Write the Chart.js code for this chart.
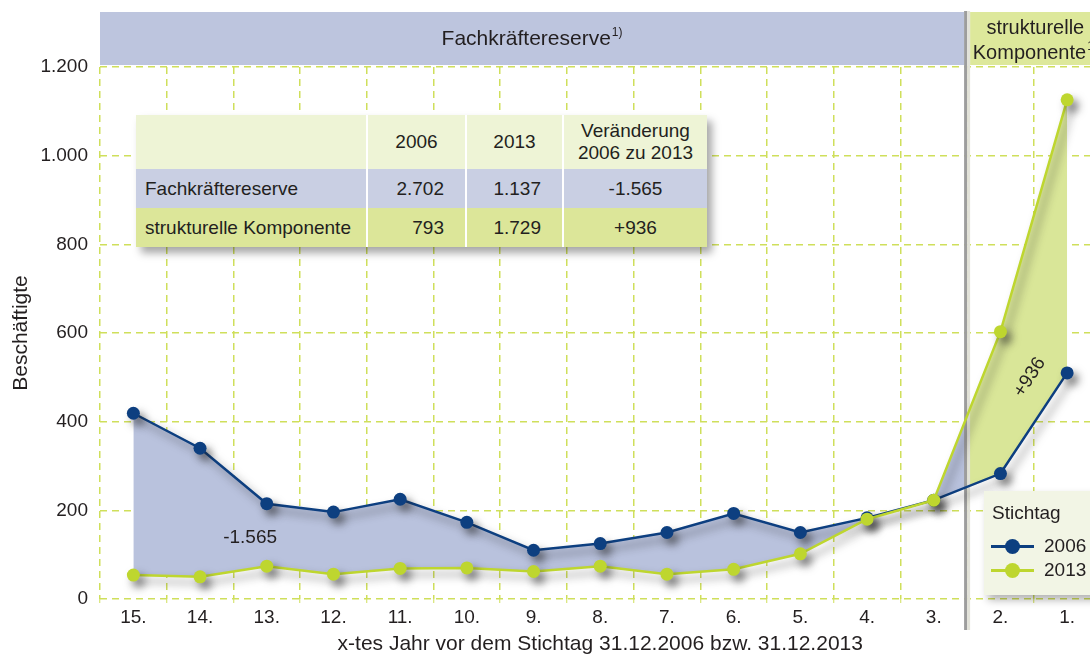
<!DOCTYPE html>
<html lang="de">
<head>
<meta charset="utf-8">
<title>Fachkräftereserve und strukturelle Komponente</title>
<script src="https://cdn.jsdelivr.net/npm/chart.js@4.4.1/dist/chart.umd.min.js"></script>
<style>
  html, body { margin: 0; padding: 0; background: #fff; overflow: hidden; }
  body { font-family: "Liberation Sans", Arial, sans-serif; color: #231f20; }
  #wrap { position: relative; width: 1107px; height: 657px; }
  #overview {
    position: absolute; left: 136px; top: 115px;
    border-collapse: collapse; font-size: 19px; table-layout: fixed;
    box-shadow: 5px 6px 8px rgba(0, 0, 0, 0.35);
  }
  #overview td { padding: 0; border-left: 2px solid #fff; white-space: nowrap; }
  #overview td:first-child { border-left: 0; }
  #overview tr.head { background: #eef4d6; height: 54px; }
  #overview tr.reserve { background: #c9cfe3; height: 39px; }
  #overview tr.struct { background: #dce699; height: 39px; }
  #overview tr.head td { text-align: center; line-height: 22px; }
  #overview td.name { padding-left: 9px; text-align: left; }
  #overview td.num { text-align: right; padding-right: 21px; }
  #overview td.diff { text-align: center; }
  #key {
    position: absolute; left: 984px; top: 491px; width: 130px; height: 104px;
    background: #f2f5e5; font-size: 19px;
    box-shadow: 4px 5px 8px rgba(0, 0, 0, 0.3);
  }
  #key .title { position: absolute; left: 8px; top: 10px; line-height: 24px; }
  #key .row { position: absolute; left: 7px; height: 24px; display: flex; align-items: center; }
  #key .sw { position: relative; width: 43px; height: 3px; margin-right: 10px; }
  #key .sw i { position: absolute; left: 14px; top: -6px; width: 15px; height: 15px; border-radius: 50%; }
</style>
</head>
<body>
<div id="wrap">
  <canvas id="reserve-chart"></canvas>
  <table id="overview">
    <colgroup><col style="width:231px"><col style="width:99px"><col style="width:97px"><col style="width:144px"></colgroup>
    <tr class="head"><td></td><td id="h0"></td><td id="h1"></td><td>Veränderung<br><span id="h2"></span></td></tr>
    <tr class="reserve"><td class="name">Fachkräftereserve</td><td class="num" id="r0"></td><td class="num" id="r1"></td><td class="diff" id="r2"></td></tr>
    <tr class="struct"><td class="name">strukturelle Komponente</td><td class="num" id="s0"></td><td class="num" id="s1"></td><td class="diff" id="s2"></td></tr>
  </table>
  <div id="key"><div class="title">Stichtag</div></div>
</div>
<script>
// x-tes Jahr vor dem Stichtag
const years = ['15.', '14.', '13.', '12.', '11.', '10.', '9.', '8.', '7.', '6.', '5.', '4.', '3.', '2.', '1.'];
const seriesLabels = ['2006', '2013'];
// Beschäftigte je Jahr, Stichtag 31.12.2006 bzw. 31.12.2013
const stichtag2006 = [419, 340, 215, 196, 225, 173, 110, 125, 150, 193, 150, 183, 223, 283, 510];
const stichtag2013 = [54, 50, 74, 56, 69, 70, 62, 74, 56, 67, 102, 180, 223, 603, 1126];
// the first 13 years count to the reserve, the last two to the structural part
const reserveYears = 13;
const yTicks = [0, 200, 400, 600, 800, 1000, 1200];

const BLUE = '#0d3f80';
const GREEN = '#bed62f';
const BLUE_FILL = '#b9c2dd';
const GREEN_FILL = '#d9e698';
const BLUE_BAND = '#bdc5de';
const GREEN_BAND = '#dde89b';
const GRID = '#cfdf5b';
const TEXT = '#231f20';
const FONT = '"Liberation Sans", Arial, sans-serif';

// German number format: 1.234 / -1.565 / +936
function fmt(n, signed) {
    const s = Math.abs(n).toString().replace(/\B(?=(\d{3})+(?!\d))/g, '.');
    if (n < 0) return '-' + s;
    return (signed ? '+' : '') + s;
}
const sum = arr => arr.reduce((a, b) => a + b, 0);

const reserve = [sum(stichtag2006.slice(0, reserveYears)), sum(stichtag2013.slice(0, reserveYears))];
const struct = [sum(stichtag2006.slice(reserveYears)), sum(stichtag2013.slice(reserveYears))];
const reserveChange = reserve[1] - reserve[0];
const structChange = struct[1] - struct[0];

// summary table
document.getElementById('h0').textContent = seriesLabels[0];
document.getElementById('h1').textContent = seriesLabels[1];
document.getElementById('h2').textContent = seriesLabels[0] + ' zu ' + seriesLabels[1];
document.getElementById('r0').textContent = fmt(reserve[0]);
document.getElementById('r1').textContent = fmt(reserve[1]);
document.getElementById('r2').textContent = fmt(reserveChange, true);
document.getElementById('s0').textContent = fmt(struct[0]);
document.getElementById('s1').textContent = fmt(struct[1]);
document.getElementById('s2').textContent = fmt(structChange, true);

// legend box
const key = document.getElementById('key');
[BLUE, GREEN].forEach((color, i) => {
    const row = document.createElement('div');
    row.className = 'row';
    row.style.top = (43 + i * 24) + 'px';
    row.innerHTML = '<span class="sw" style="background:' + color + '"><i style="background:' + color + '"></i></span>' + seriesLabels[i];
    key.appendChild(row);
});

// x position of the divider between the reserve years and the structural years
function dividerX(chart) {
    const x = chart.scales.x;
    return (x.getPixelForValue(reserveYears - 1) + x.getPixelForValue(reserveYears)) / 2;
}

// blue fill left of the divider, green fill right of it
function splitFill(context) {
    const chart = context.chart;
    const area = chart.chartArea;
    if (!area || !chart.scales.x) return BLUE_FILL;
    const cut = (dividerX(chart) - area.left) / (area.right - area.left);
    const g = chart.ctx.createLinearGradient(area.left, 0, area.right, 0);
    g.addColorStop(0, BLUE_FILL);
    g.addColorStop(cut, BLUE_FILL);
    g.addColorStop(cut, GREEN_FILL);
    g.addColorStop(1, GREEN_FILL);
    return g;
}

// soft drop shadow under lines and points
const shadowPlugin = {
    id: 'markShadow',
    beforeDatasetDraw(chart) {
        const c = chart.ctx;
        c.save();
        c.shadowColor = 'rgba(30, 30, 30, 0.55)';
        c.shadowBlur = 8;
        c.shadowOffsetX = 5;
        c.shadowOffsetY = 6;
    },
    afterDatasetDraw(chart) {
        chart.ctx.restore();
    }
};

// header bands, divider and the change labels
const panelPlugin = {
    id: 'panels',
    beforeDraw(chart) {
        const c = chart.ctx;
        const area = chart.chartArea;
        const sx = dividerX(chart);
        const top = area.top - 55, h = 53;
        c.save();
        c.fillStyle = BLUE_BAND;
        c.fillRect(area.left, top, sx - 3 - area.left, h);
        c.fillStyle = GREEN_BAND;
        c.fillRect(sx + 3, top, area.right - sx - 3, h);

        c.fillStyle = TEXT;
        c.textBaseline = 'middle';
        // left band title with footnote mark
        c.font = '21px ' + FONT;
        const t1 = 'Fachkräftereserve';
        const w1 = c.measureText(t1).width;
        c.font = '12px ' + FONT;
        const wn = c.measureText('1)').width;
        let x0 = (area.left + sx - 3) / 2 - (w1 + wn + 1) / 2;
        const cy = top + h / 2;
        c.textAlign = 'left';
        c.font = '21px ' + FONT;
        c.fillText(t1, x0, cy + 1);
        c.font = '12px ' + FONT;
        c.fillText('1)', x0 + w1 + 1, cy - 6);

        // right band title, two lines
        const cx = (sx + 3 + area.right) / 2;
        c.font = '20px ' + FONT;
        c.textAlign = 'center';
        c.fillText('strukturelle', cx, top + 16);
        const t2 = 'Komponente';
        const w2 = c.measureText(t2).width;
        c.font = '12px ' + FONT;
        const wn2 = c.measureText('1)').width;
        c.textAlign = 'left';
        const x2 = cx - (w2 + wn2 + 1) / 2;
        c.font = '20px ' + FONT;
        c.fillText(t2, x2, top + 41);
        c.font = '12px ' + FONT;
        c.fillText('1)', x2 + w2 + 1, top + 35);
        c.restore();
    },
    beforeDatasetsDraw(chart) {
        const c = chart.ctx;
        const area = chart.chartArea;
        const sx = dividerX(chart);
        c.save();
        c.fillStyle = '#9d9d9d';
        c.fillRect(sx - 3, area.top - 56, 3, area.bottom - area.top + 87);
        c.fillStyle = '#e2e2d9';
        c.fillRect(sx, area.top - 56, 3, area.bottom - area.top + 87);
        c.restore();
    },
    afterDatasetsDraw(chart) {
        const c = chart.ctx;
        const x = chart.scales.x, y = chart.scales.y;
        c.save();
        c.fillStyle = TEXT;
        c.font = '19px ' + FONT;
        c.textAlign = 'center';
        c.textBaseline = 'middle';
        c.fillText(fmt(reserveChange, true), x.getPixelForValue(1.75), y.getPixelForValue(138));
        c.translate(x.getPixelForValue(13.44), y.getPixelForValue(500));
        c.rotate(-57 * Math.PI / 180);
        c.fillText(fmt(structChange, true), 0, 0);
        c.restore();
    }
};

function makeReserveChart() {
    const context = document.querySelector('#reserve-chart').getContext('2d');
    const data = {
        labels: years,
        datasets: [{
            label: seriesLabels[0],
            data: stichtag2006,
            borderColor: BLUE,
            backgroundColor: splitFill,
            pointBackgroundColor: BLUE,
            fill: 1,
            order: 1
        },
        {
            label: seriesLabels[1],
            data: stichtag2013,
            borderColor: GREEN,
            backgroundColor: GREEN,
            pointBackgroundColor: GREEN,
            fill: false,
            order: 0
        }]
    };
    const chartOptions = {
        responsive: true,
        maintainAspectRatio: false,
        animation: false,
        layout: { padding: { top: 67, left: 0, right: 0, bottom: 0 } },
        elements: {
            line: { borderWidth: 2.5, tension: 0 },
            point: { radius: 6.5, borderWidth: 0, hoverRadius: 6.5 }
        },
        scales: {
            x: {
                offset: true,
                grid: {
                    offset: true, color: GRID, lineWidth: 1.5,
                    tickLength: 4, tickColor: GRID, tickWidth: 1, tickBorderDash: []
                },
                border: { display: false, dash: [7, 5] },
                ticks: { color: TEXT, font: { family: FONT, size: 19 }, padding: 3, maxRotation: 0 },
                title: {
                    display: true,
                    text: 'x-tes Jahr vor dem Stichtag 31.12.2006 bzw. 31.12.2013',
                    color: TEXT, font: { family: FONT, size: 21 }, padding: { top: 0, bottom: 0 }
                },
                afterFit(scale) { scale.height = 58; }
            },
            y: {
                min: 0,
                max: 1200,
                afterBuildTicks(scale) { scale.ticks = yTicks.map(v => ({ value: v })); },
                grid: { color: GRID, lineWidth: 1.5, drawTicks: false },
                border: { display: false, dash: [7, 5] },
                ticks: {
                    color: TEXT, font: { family: FONT, size: 19 }, padding: 12,
                    callback: v => fmt(v)
                },
                title: {
                    display: true, text: 'Beschäftigte',
                    color: TEXT, font: { family: FONT, size: 21 }, padding: { top: 9, bottom: 0 }
                },
                afterFit(scale) { scale.width = 100; }
            }
        },
        plugins: {
            legend: { display: false },
            tooltip: { enabled: false },
            filler: { drawTime: 'beforeDatasetsDraw' }
        }
    };
    new Chart(context, { type: 'line', data: data, options: chartOptions, plugins: [shadowPlugin, panelPlugin] });
}

makeReserveChart();
</script>
</body>
</html>
